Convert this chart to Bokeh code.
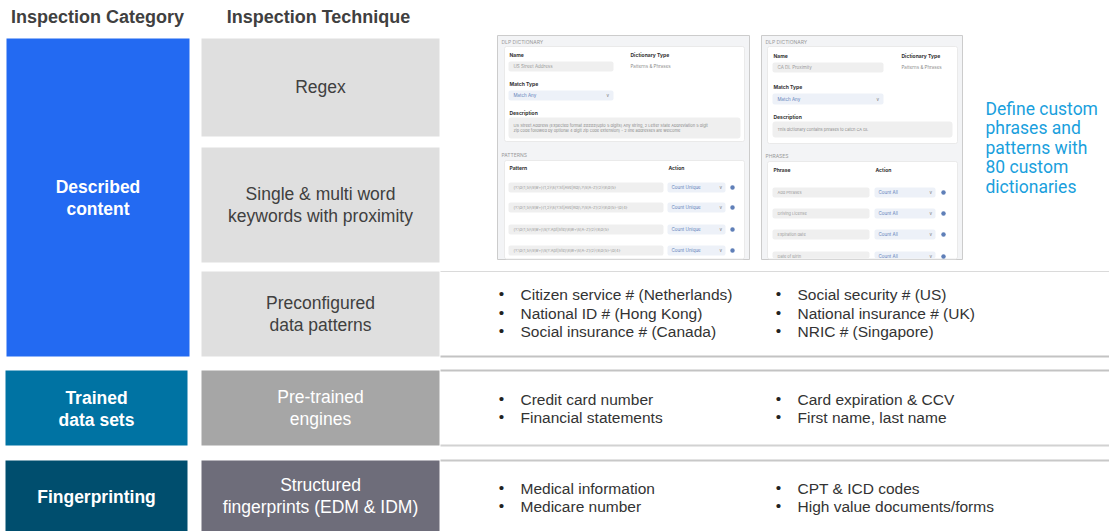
from bokeh.plotting import figure
from bokeh.models import Range1d, ColumnDataSource
from bokeh.embed import file_html
from bokeh.resources import INLINE
from bokeh.core.properties import value

# ---------------- data ----------------
column_headers = ["Inspection Category", "Inspection Technique"]
categories = [["Described", "content"], ["Trained", "data sets"], ["Fingerprinting"]]
techniques = [["Regex"],
              ["Single & multi word", "keywords with proximity"],
              ["Preconfigured", "data patterns"],
              ["Pre-trained", "engines"],
              ["Structured", "fingerprints (EDM & IDM)"]]
examples_left = [["Citizen service # (Netherlands)", "National ID # (Hong Kong)", "Social insurance # (Canada)"],
                 ["Credit card number", "Financial statements"],
                 ["Medical information", "Medicare number"]]
examples_right = [["Social security # (US)", "National insurance # (UK)", "NRIC # (Singapore)"],
                  ["Card expiration & CCV", "First name, last name"],
                  ["CPT & ICD codes", "High value documents/forms"]]
callout_lines = ["Define custom", "phrases and", "patterns with", "80 custom", "dictionaries"]

# dictionary screenshots
shot_title = "DLP DICTIONARY"
field_labels = ["Name", "Dictionary Type", "Match Type", "Description"]
dict_names = ["US Street Address", "CA DL Proximity"]
dict_types = ["Patterns & Phrases", "Patterns & Phrases"]
match_types = ["Match Any", "Match Any"]
descriptions = [["US Street Address (Expected format #####(upto 5 digits) Any string, 2 Letter State Abbreviation 5 digit",
                 "zip code followed by optional 4 digit zip code extension) - 2 line addresses are welcome"],
                ["This dictionary contains phrases to catch CA DL"]]
list_sections = ["PATTERNS", "PHRASES"]
list_columns = [["Pattern", "Action"], ["Phrase", "Action"]]
list_entries = [["(?:\\d{1,5}\\s\\w+){1,2}\\s(?:St|Ave|Rd)\\.?\\s[A-Z]{2}\\s\\d{5}",
                 "(?:\\d{1,5}\\s\\w+){1,2}\\s(?:St|Ave|Rd)\\.?\\s[A-Z]{2}\\s\\d{5}-\\d{4}",
                 "(?:\\d{1,5}\\s\\w+)\\s(?:Apt|Ste)\\s\\w+\\s[A-Z]{2}\\s\\d{5}",
                 "(?:\\d{1,5}\\s\\w+)\\s(?:Apt|Ste)\\s\\w+\\s[A-Z]{2}\\s\\d{5}-\\d{4}"],
                ["Add Phrases", "Driving License", "Expiration date", "Date of Birth"]]
list_actions = [["Count Unique", "Count Unique", "Count Unique", "Count Unique"],
                ["Count All", "Count All", "Count All", "Count All"]]

# ---------------- styles / layout ----------------
cat_colors = ["#236AF2", "#0073A3", "#004E6E"]
tech_fill = ["#DFDFDF", "#DFDFDF", "#DFDFDF", "#A6A6A6", "#6E6D7A"]
tech_text = ["#404040", "#404040", "#404040", "#FFFFFF", "#FFFFFF"]
cat_geom = [(6, 189, 38, 356), (5, 187, 370, 445), (5, 187, 460, 531)]
tech_x = (201, 439)
tech_y = [(38, 136), (147, 262), (271, 356), (370, 445), (460, 531)]
example_rows = [2, 3, 4]
example_shift = [-1, 0.5, 1.5]
separators = [(271, "#DADADA", 1.2), (356, "#C3C3C3", 2.2), (370, "#C3C3C3", 2.2),
              (445, "#D2D2D2", 2.2), (460, "#C8C8C8", 2.2)]
ARIAL = "Liberation Sans"
UI = "Inter"

W, H = 1109, 531
p = figure(width=W, height=H, x_range=Range1d(0, W), y_range=Range1d(H, 0),
           output_backend="svg", toolbar_location=None, min_border=0)
p.axis.visible = False
p.grid.visible = False
p.outline_line_color = None
p.background_fill_color = "white"


def boxes(l, r, t, b, fill, line=None, lw=1.0, radius=0):
    src = ColumnDataSource(dict(l=l, r=r, t=t, b=b))
    p.quad(left="l", right="r", top="t", bottom="b", source=src, fill_color=fill,
           line_color=line, line_width=lw, border_radius=radius)


def texts(xs, ys, strings, size, color, align="left", style="normal", font=ARIAL):
    src = ColumnDataSource(dict(x=xs, y=ys, t=strings))
    p.text(x="x", y="y", text="t", source=src, text_font=value(font), text_font_size=size,
           text_color=color, text_align=align, text_baseline="middle", text_font_style=style)


# column headers
texts([97, 318], [16, 16], column_headers, "18px", "#404040", align="center", style="bold")

# category boxes
for (x0, x1, y0, y1), col, lines in zip(cat_geom, cat_colors, categories):
    boxes([x0], [x1], [y0], [y1], col)
    yc = (y0 + y1) / 2 + 0.5
    n = len(lines)
    ys = [yc + (i - (n - 1) / 2) * 22 for i in range(n)]
    texts([(x0 + x1) / 2] * n, ys, lines, "17.5px", "#FFFFFF", align="center", style="bold")

# technique boxes
for (y0, y1), fill, tc, lines in zip(tech_y, tech_fill, tech_text, techniques):
    boxes([tech_x[0]], [tech_x[1]], [y0], [y1], fill)
    yc = (y0 + y1) / 2 - 0.5
    n = len(lines)
    ys = [yc + (i - (n - 1) / 2) * 22 for i in range(n)]
    texts([(tech_x[0] + tech_x[1]) / 2] * n, ys, lines, "17.5px", tc, align="center")

# separators
for y, col, lw in separators:
    p.segment(x0=[440], x1=[1110], y0=[y], y1=[y], line_color=col, line_width=lw)

# example bullet lists
for ti, sh, left, right in zip(example_rows, example_shift, examples_left, examples_right):
    y0, y1 = tech_y[ti]
    yc = (y0 + y1) / 2 + sh
    for col_items, bx, tx in [(left, 501, 520), (right, 778, 797)]:
        n = len(col_items)
        ys = [yc + (i - (n - 1) / 2) * 18.5 for i in range(n)]
        texts([bx] * n, [y - 1 for y in ys], ["\u2022"] * n, "15.5px", "#222222", align="center")
        texts([tx] * n, ys, col_items, "15.5px", "#333333")

# callout
texts([985] * len(callout_lines), [108 + 19.6 * i for i in range(len(callout_lines))],
      callout_lines, "17.5px", "#1A9FDD", font="Roboto")

# dictionary screenshots
shots = [
    dict(x0=497, x1=749, y0=35, y1=259, cx0=504, cx1=744, c1y1=141, lx=509, name_y=54,
         in_y=(61, 71), in_x1=613, type_x=630, match_y=83, dd_y=(90, 100), desc_y=112,
         desc_box=(117, 138), desc_x1=740, sec_y=154, c2y0=160, col_y=167,
         rows=[187, 207, 229, 250], row_in_x1=663, dd_x=(667, 725), gear_x=732, act_x=668),
    dict(x0=761, x1=962, y0=35, y1=259, cx0=767, cx1=957, c1y1=143, lx=773, name_y=55,
         in_y=(62, 72), in_x1=883, type_x=901, match_y=86, dd_y=(93, 104), desc_y=116,
         desc_box=(121, 137), desc_x1=952, sec_y=155, c2y0=161, col_y=169,
         rows=[192, 213, 234, 256], row_in_x1=869, dd_x=(874, 935), gear_x=943, act_x=875),
]
for i, g in enumerate(shots):
    boxes([g["x0"]], [g["x1"]], [g["y0"]], [g["y1"]], "#F3F4F6", line="#CCCCCC", lw=1)
    texts([g["x0"] + 4], [41], [shot_title], "5px", "#9A9A9A", font=UI)
    # card 1
    boxes([g["cx0"]], [g["cx1"]], [46], [g["c1y1"]], "#FFFFFF", line="#E6E6E6", lw=0.8, radius=2)
    texts([g["lx"], g["type_x"]], [g["name_y"]] * 2, field_labels[:2], "5px", "#333333",
          style="bold", font=UI)
    boxes([g["lx"] - 1], [g["in_x1"]], [g["in_y"][0]], [g["in_y"][1]], "#EFEFEF", radius=2)
    texts([g["lx"] + 4], [sum(g["in_y"]) / 2], [dict_names[i]], "4.5px", "#9A9A9A", font=UI)
    texts([g["type_x"]], [sum(g["in_y"]) / 2], [dict_types[i]], "4.5px", "#8A8A8A", font=UI)
    texts([g["lx"]], [g["match_y"]], [field_labels[2]], "5px", "#333333", style="bold", font=UI)
    boxes([g["lx"] - 1], [g["in_x1"]], [g["dd_y"][0]], [g["dd_y"][1]], "#EDF1F8", radius=2)
    texts([g["lx"] + 4], [sum(g["dd_y"]) / 2], [match_types[i]], "4.5px", "#5F7FB8", font=UI)
    texts([g["in_x1"] - 7], [sum(g["dd_y"]) / 2], ["v"], "4.5px", "#777777", font=UI)
    texts([g["lx"]], [g["desc_y"]], [field_labels[3]], "5px", "#333333", style="bold", font=UI)
    boxes([g["lx"] - 1], [g["desc_x1"]], [g["desc_box"][0]], [g["desc_box"][1]], "#EFEFEF", radius=3)
    dl = descriptions[i]
    dyc = sum(g["desc_box"]) / 2
    texts([g["lx"] + 4] * len(dl), [dyc + (k - (len(dl) - 1) / 2) * 5 for k in range(len(dl))],
          dl, "4px", "#8A8A8A", font=UI)
    # card 2 (list)
    texts([g["x0"] + 4], [g["sec_y"]], [list_sections[i]], "5px", "#9A9A9A", font=UI)
    boxes([g["cx0"]], [g["cx1"]], [g["c2y0"]], [g["y1"] - 0.5], "#FFFFFF", line="#E6E6E6", lw=0.8, radius=2)
    texts([g["lx"], g["act_x"]], [g["col_y"]] * 2, list_columns[i], "5px", "#333333",
          style="bold", font=UI)
    rows = g["rows"]
    nr = len(rows)
    bottoms = [min(y + 5, g["y1"] - 1) for y in rows]
    boxes([g["lx"] - 1] * nr, [g["row_in_x1"]] * nr, [y - 5 for y in rows], bottoms, "#EFEFEF", radius=2)
    boxes([g["dd_x"][0]] * nr, [g["dd_x"][1]] * nr, [y - 5 for y in rows], bottoms, "#EDF1F8", radius=2)
    texts([g["lx"] + 4] * nr, rows, list_entries[i], "4px", "#9A9A9A", font=UI)
    texts([g["dd_x"][0] + 4] * nr, rows, list_actions[i], "4.5px", "#5F7FB8", font=UI)
    texts([g["dd_x"][1] - 6] * nr, rows, ["v"] * nr, "4.5px", "#777777", font=UI)
    p.scatter(x=[g["gear_x"]] * nr, y=rows, size=4.5, fill_color="#5F7FB8", line_color=None)

open("out.html", "w").write(file_html(p, INLINE))
